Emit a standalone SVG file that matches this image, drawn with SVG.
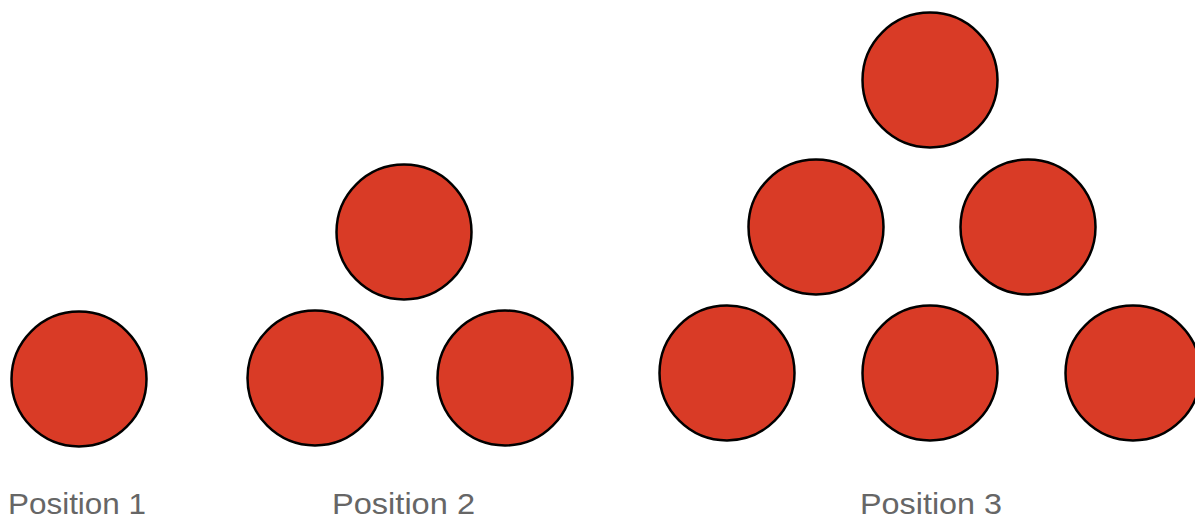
<svg xmlns="http://www.w3.org/2000/svg" width="1195" height="518" viewBox="0 0 1195 518">
<style>
.ball{fill:#d93b26;stroke:#000;stroke-width:2.5}
.lbl{font-family:"Liberation Sans",Arial,sans-serif;font-size:30px;fill:#666}
</style>
<rect width="1195" height="518" fill="#fff"/>
<g id="pos1">
<circle class="ball" cx="79" cy="379" r="67.5"/>
</g>
<g id="pos2">
<circle class="ball" cx="404" cy="232" r="67.5"/>
<circle class="ball" cx="315" cy="378" r="67.5"/>
<circle class="ball" cx="505" cy="378" r="67.5"/>
</g>
<g id="pos3">
<circle class="ball" cx="930" cy="80" r="67.5"/>
<circle class="ball" cx="816" cy="227" r="67.5"/>
<circle class="ball" cx="1028" cy="227" r="67.5"/>
<circle class="ball" cx="727" cy="373" r="67.5"/>
<circle class="ball" cx="930" cy="373" r="67.5"/>
<circle class="ball" cx="1133" cy="373" r="67.5"/>
</g>
<g id="connectors"/>
<g id="labels">
<text class="lbl" x="8" y="514" textLength="138" lengthAdjust="spacingAndGlyphs">Position 1</text>
<text class="lbl" x="332" y="514" textLength="143" lengthAdjust="spacingAndGlyphs">Position 2</text>
<text class="lbl" x="860" y="514" textLength="142" lengthAdjust="spacingAndGlyphs">Position 3</text>
</g>
</svg>
